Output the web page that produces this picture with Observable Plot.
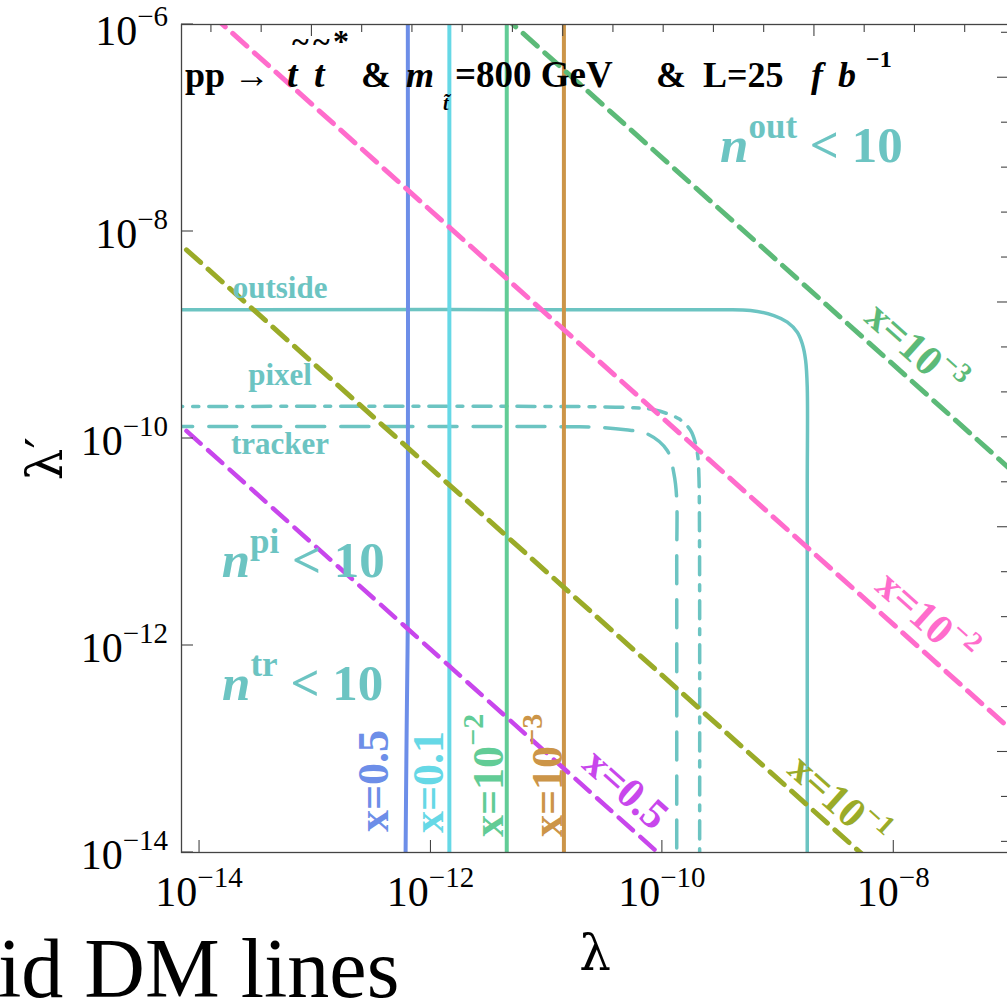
<!DOCTYPE html>
<html><head><meta charset="utf-8">
<script src="https://cdn.jsdelivr.net/npm/d3@7"></script>
<script src="https://cdn.jsdelivr.net/npm/@observablehq/plot@0.6"></script>
<style>
html,body{margin:0;padding:0;background:#fff;overflow:hidden;}
#chart{width:1007px;height:1004px;overflow:hidden;position:relative;}
</style></head><body><div id="chart"></div>
<script>
// ---- data (log10 exponents of lambda, lambda') ----
const xTickExps = [-14, -12, -10, -8];
const yTickExps = [-6, -8, -10, -12, -14];
const lnTicksTop = [-32,-31,-30,-29,-28,-27,-26,-25,-24,-23,-22,-21,-20,-19,-18,-17];
const lnTicksRight = [-32,-31,-30,-29,-28,-27,-26,-25,-24,-23,-22,-21,-20,-19,-18,-17,-16,-15,-14];

const outsideCurve = [[-14.3,-8.757],[-9.6,-8.757],[-9.238,-8.763],[-9.036,-8.812],[-8.920,-8.876],[-8.834,-8.973],[-8.791,-9.085],[-8.762,-9.246],[-8.748,-9.504],[-8.748,-10.5],[-8.748,-14.2]];
const pixelCurve = [[-14.3,-9.691],[-10.6,-9.693],[-10.246,-9.703],[-10.073,-9.723],[-9.857,-9.810],[-9.756,-9.923],[-9.713,-10.051],[-9.693,-10.180],[-9.684,-10.373],[-9.679,-11.0],[-9.678,-14.2]];
const trackerCurve = [[-14.3,-9.884],[-10.8,-9.886],[-10.563,-9.891],[-10.318,-9.916],[-10.130,-9.955],[-9.958,-10.116],[-9.900,-10.341],[-9.877,-10.567],[-9.876,-11.2],[-9.876,-14.2]];

const blueDM = [[-12.200,-5.9],[-12.200,-11.75],[-12.204,-12.2],[-12.210,-12.8],[-12.215,-13.4],[-12.220,-14.1]];
const verticalNames = ["x=0.1", "x=10^-2", "x=10^-3"];
const verticalExps = [-11.841, -11.345, -10.851];
const verticalColors = ["#66d8e6", "#62cc96", "#cc9548"];

const diagNames = ["x=10^-2", "x=10^-3", "x=10^-1", "x=0.5"];
const diagColors = ["#ff6ccc", "#5cba78", "#9aab28", "#c846ec"];
const diagEnds = [
  [[-13.9,-5.9],[-6.9,-12.9]],
  [[-11.39,-5.9],[-6.9,-10.39]],
  [[-14.3,-7.99],[-8.19,-14.1]],
  [[-14.3,-9.74],[-9.94,-14.1]]
];
const teal = "#6cc4c2";
const blue = "#6d8ee8";

const toPts = arr => arr.map(([a, b]) => ({x: 10 ** a, y: 10 ** b}));

const marks = [
  Plot.line(toPts(outsideCurve), {x: "x", y: "y", stroke: teal, strokeWidth: 3.5, curve: "catmull-rom", clip: true}),
  Plot.line(toPts(pixelCurve), {x: "x", y: "y", stroke: teal, strokeWidth: 3.5, curve: "catmull-rom", strokeDasharray: "18,10,6,10", clip: true}),
  Plot.line(toPts(trackerCurve), {x: "x", y: "y", stroke: teal, strokeWidth: 3.5, curve: "catmull-rom", strokeDasharray: "28,16", clip: true}),
  Plot.line(toPts(blueDM), {x: "x", y: "y", stroke: blue, strokeWidth: 4, curve: "catmull-rom", clip: true}),
];
verticalExps.forEach((e, i) => marks.push(Plot.ruleX([10 ** e], {stroke: verticalColors[i], strokeWidth: 4})));
diagEnds.forEach((pts, i) => marks.push(Plot.line(toPts(pts), {x: "x", y: "y", stroke: diagColors[i], strokeWidth: i === 3 ? 4.5 : 5, strokeDasharray: "19,10", clip: true})));
marks.push(Plot.frame({stroke: "#444", strokeWidth: 1.3}));

const chart = Plot.plot({
  width: 1012, height: 1004,
  marginLeft: 181, marginRight: 3, marginTop: 24, marginBottom: 152,
  x: {type: "log", domain: [10 ** -14.156, 1e-7], axis: null},
  y: {type: "log", domain: [1e-14, 1e-6], axis: null},
  style: {background: "white", overflow: "visible", maxWidth: "none"},
  marks
});
chart.style.maxWidth = "none";
chart.style.width = "1012px";
chart.style.height = "1004px";
document.getElementById("chart").appendChild(chart);

const X = v => chart.scale("x").apply(10 ** v);
const Y = v => chart.scale("y").apply(10 ** v);
const svg = d3.select(chart);
const serif = "'Liberation Serif', 'Times New Roman', serif";
const g = svg.append("g").attr("font-family", serif).attr("text-anchor", "start").attr("font-size", 16);

// ticks
const x0 = X(-14.156), x1 = X(-7), y0 = Y(-14), y1 = Y(-6);
const tk = g.append("g").attr("stroke", "#444").attr("stroke-width", 1.1);
xTickExps.forEach(e => tk.append("line").attr("x1", X(e)).attr("x2", X(e)).attr("y1", y0).attr("y2", y0 - 12));
yTickExps.forEach(e => tk.append("line").attr("y1", Y(e)).attr("y2", Y(e)).attr("x1", x0).attr("x2", x0 + 12));
lnTicksTop.forEach(n => { const px = X(n / Math.LN10); const L = n % 5 === 0 ? 12 : 8;
  tk.append("line").attr("x1", px).attr("x2", px).attr("y1", y1).attr("y2", y1 + L); });
lnTicksRight.forEach(n => { const py = Y(n / Math.LN10); const L = n % 5 === 0 ? 12 : 8;
  tk.append("line").attr("y1", py).attr("y2", py).attr("x1", x1).attr("x2", x1 - L); });

function txt(parent, x, y, parts, attrs = {}) {
  const t = parent.append("text").attr("x", x).attr("y", y);
  Object.entries(attrs).forEach(([k, v]) => t.attr(k, v));
  parts.forEach(p => {
    const s = t.append("tspan").text(p.t);
    if (p.size) s.attr("font-size", p.size);
    if (p.dy) s.attr("dy", p.dy);
    if (p.dx) s.attr("dx", p.dx);
    if (p.x != null) s.attr("x", p.x);
    if (p.it) s.attr("font-style", "italic");
    if (p.w) s.attr("font-weight", p.w);
  });
  return t;
}
const sup = s => "\u2212" + s;
// tick labels
yTickExps.forEach(e => txt(g, x0 - 13, Y(e) + (e === -6 ? 21 : 17), [{t: "10"}, {t: sup(-e), size: 29, dy: -19}], {"text-anchor": "end", "font-size": 42}));
xTickExps.forEach(e => txt(g, X(e), y0 + 54, [{t: "10"}, {t: sup(-e), size: 29, dy: -19}], {"text-anchor": "middle", "font-size": 42}));

// axis labels
const greek = "'DejaVu Serif', 'Liberation Serif', serif";
txt(g, (x0 + x1) / 2, 970, [{t: "\u03bb"}], {"text-anchor": "middle", "font-size": 50, "font-family": greek});
txt(g, 0, 0, [{t: "\u03bb\u2032"}], {"text-anchor": "middle", "font-size": 50, "font-family": greek, transform: `translate(62,${Y(-10.2)}) rotate(-90)`});
txt(g, -2, 997, [{t: "id DM lines"}], {"font-size": 84});

// title (one text element)
const tg = g.append("g").attr("font-weight", "bold").attr("fill", "#000");
txt(tg, 185, 87, [
  {t: "pp \u2192"},
  {t: "t", it: 1, x: 287, size: 38}, {t: "t", it: 1, x: 314, size: 38},
  {t: "~", x: 292, dy: -35, size: 32}, {t: "~", x: 313, size: 32}, {t: "*", x: 333, size: 32},
  {t: "&", x: 361, dy: 35},
  {t: "m", it: 1, x: 406},
  {t: "t\u0303", it: 1, x: 443, dy: 23, size: 20},
  {t: "=800 GeV", x: 455, dy: -23, size: 37},
  {t: "&", x: 656}, {t: "L=25", x: 703},
  {t: "f", it: 1, x: 811}, {t: "b", it: 1, x: 838}, {t: "\u22121", size: 24, dy: -20, x: 866}
], {"font-size": 36});

// region labels
const lg = g.append("g").attr("font-weight", "bold").attr("fill", teal);
txt(lg, X(-13.30), Y(-8.647), [{t: "outside"}], {"text-anchor": "middle", "font-size": 31});
txt(lg, X(-13.30), Y(-9.488), [{t: "pixel"}], {"text-anchor": "middle", "font-size": 31});
txt(lg, X(-13.30), Y(-10.155), [{t: "tracker"}], {"text-anchor": "middle", "font-size": 31});
const nlab = (lx, ly, s) => txt(lg, X(lx), Y(ly), [{t: "n", it: 1}, {t: s, size: 35, dy: -24}, {t: " < 10", dy: 24}], {"font-size": 51});
nlab(-9.497, -7.330, "out");
nlab(-13.804, -11.343, "pi");
nlab(-13.801, -12.531, "tr");

// DM line labels (vertical)
const vg = g.append("g").attr("font-weight", "bold").attr("font-size", 44);
const vlab = (lx, ly, color, parts) => txt(vg, 0, 0, parts, {fill: color, transform: `translate(${X(lx)},${Y(ly)}) rotate(-90)`});
vlab(-12.366, -13.807, blue, [{t: "x=0.5"}]);
vlab(-11.888, -13.816, verticalColors[0], [{t: "x=0.1"}]);
vlab(-11.373, -13.855, verticalColors[1], [{t: "x=10"}, {t: "\u22122", size: 30, dy: -20}]);
vlab(-10.863, -13.855, verticalColors[2], [{t: "x=10"}, {t: "\u22123", size: 30, dy: -20}]);

// diagonal labels
const ang = Math.atan2(Y(-11) - Y(-10), X(-9) - X(-10)) * 180 / Math.PI;
const dlab = (lx, ly, color, parts) => txt(vg, 0, 0, parts, {fill: color, "font-size": 42, "text-anchor": "middle", dy: "0.35em", transform: `translate(${X(lx)},${Y(ly)}) rotate(${ang})`});
dlab(-7.803, -9.130, diagColors[1], [{t: "x=10"}, {t: "\u22123", size: 28, dy: -18}]);
dlab(-7.710, -11.727, diagColors[0], [{t: "x=10"}, {t: "\u22122", size: 28, dy: -18}]);
dlab(-8.468, -13.498, diagColors[2], [{t: "x=10"}, {t: "\u22121", size: 28, dy: -18}]);
dlab(-10.305, -13.382, diagColors[3], [{t: "x=0.5"}]);
</script>
</body></html>
